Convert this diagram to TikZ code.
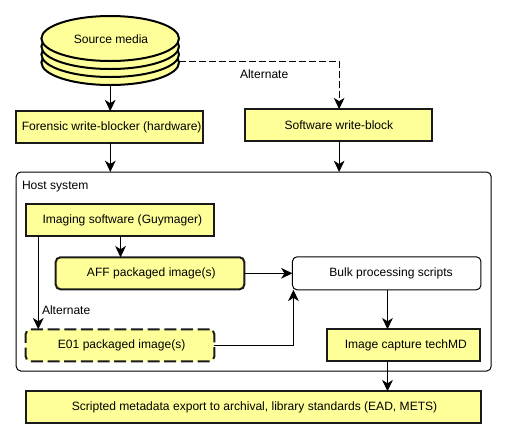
\documentclass[tikz,border=0pt]{standalone}
\usepackage{fontspec}
\setmainfont{Liberation Sans}
\usetikzlibrary{arrows.meta,shapes.geometric,calc}
\definecolor{boxfill}{HTML}{FFFF99}
\definecolor{boxline}{HTML}{1A1A1A}
\tikzset{
  x=0.75pt,y=-0.75pt,
  every node/.style={font=\fontsize{9.05}{11}\selectfont,inner sep=0pt,outer sep=0pt,text=black},
  yellowbox/.style={draw=boxline,fill=boxfill,line width=1.5pt,minimum height=24pt},
  roundbox/.style={yellowbox,rounded corners=3.5pt},
  dashbox/.style={roundbox,dash pattern=on 9pt off 3.5pt},
  whitebox/.style={draw=black,fill=white,line width=0.75pt,rounded corners=3.5pt,minimum height=24.75pt},
  hostbox/.style={draw=black,line width=0.75pt,rounded corners=3.5pt},
  platter/.style={draw=black,fill=boxfill,line width=1.5pt,ellipse,minimum width=103.2pt,minimum height=33.75pt},
  flow/.style={draw=black,line width=0.75pt,-{Stealth[length=8.5pt,width=8pt,inset=2.5pt]}},
  altflow/.style={flow,dash pattern=on 5pt off 2.5pt},
  ghost/.style={minimum width=103.2pt,minimum height=51.75pt},
  caption/.style={anchor=west}
}
\begin{document}
\begin{tikzpicture}
\useasboundingbox (0,0) rectangle (507,440);
% host container
\node[hostbox,minimum width=356.25pt,minimum height=149.25pt] (host) at (253.7,271.5) {};
\node[caption] (hostlabel) at (22,186.5) {Host system};
% source media stack
\node[platter] (p4) at (110.2,62.5) {};
\node[platter] (p3) at (110.2,54.5) {};
\node[platter] (p2) at (110.2,46.5) {};
\node[platter] (p1) at (110.2,38.5) {};
\node (mediatext) at (111,39.5) {Source media};
\node[ghost] (media) at (110.2,50.5) {};
\coordinate (mediaside) at ($(media.east)+(0,10.5)$);
% boxes
\node[yellowbox,minimum width=140.6pt] (forensic) at (109.7,127.2) {\kern3pt Forensic write-blocker (hardware)};
\node[yellowbox,minimum width=140.6pt] (software) at (338.6,125.2) {\kern.5pt Software write-block};
\node[yellowbox,minimum width=141.4pt] (imaging) at (120,220.3) {\kern3.5pt Imaging software (Guymager)};
\node[roundbox,minimum width=141.4pt] (aff) at (150,273.3) {\kern2pt AFF packaged image(s)};
\node[dashbox,minimum width=141.4pt] (e01) at (120,345.3) {\kern2.5pt E01 packaged image(s)};
\node[whitebox,minimum width=141.4pt] (bulk) at (386.7,273.3) {\kern6.5pt Bulk processing scripts};
\node[yellowbox,minimum width=115.3pt] (capture) at (403.5,345.3) {\kern3.5pt Image capture techMD};
\node[yellowbox,minimum width=341pt] (export) at (253.2,407.3) {\kern2pt Scripted metadata export to archival, library standards (EAD, METS)};
% connectors
\draw[flow] (media.south) -- (media.south |- forensic.north);
\draw[flow] ([xshift=0.45pt]forensic.south) -- ([xshift=0.45pt]forensic.south |- host.north);
\draw[flow] ([xshift=0.4pt]software.south) -- ([xshift=0.4pt]software.south |- host.north);
\draw[altflow] (mediaside) -| ([xshift=0.4pt]software.north);
\node[caption] (alt1) at (240,74) {Alternate};
\draw[flow] ([xshift=0.4pt]imaging.south) -- ([xshift=0.4pt]imaging.south |- aff.north);
\draw[flow] ([xshift=9.4pt]imaging.south west) -- ([xshift=9.4pt]e01.north west);
\node[caption] (alt2) at (42,310) {Alternate};
\draw[flow] (aff.east) -- (bulk.west);
\draw[flow] (e01.east) -| ([xshift=0.75pt]bulk.south west);
\draw[flow] ([xshift=0.6pt]bulk.south) -- ([xshift=0.6pt]bulk.south |- capture.north);
\draw[flow] ([xshift=-12pt]capture.south) -- ([xshift=-12pt]capture.south |- export.north);
\end{tikzpicture}
\end{document}
